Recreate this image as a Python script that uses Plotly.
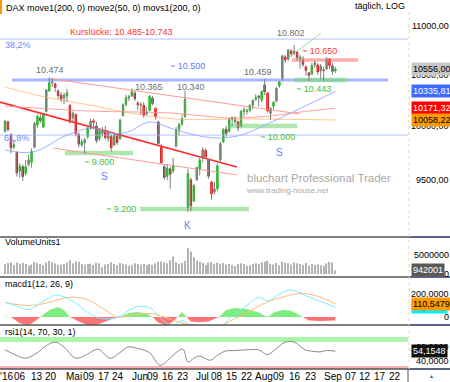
import math
import plotly.graph_objects as go

W, H = 450, 382
FONT = "Liberation Sans, Arial, sans-serif"

# ---------------- data (trading-day index 0 = 30 Mar) ----------------
opens = [9950, 10040, 9920, 9800, 9750, 9580, 9620, 9560, 9640, 9660, 9800, 10010, 10080, 9990, 10140, 10340, 10420, 10410, 10340, 10300, 10270, 10290, 10200,
         10080, 10110, 9920, 9820, 9840, 9900, 9990, 10050, 10000, 9880, 9930, 9960, 9880, 9900, 9820, 9910, 9880, 10100, 10210, 10270, 10290, 10320,
         10220, 10200, 10200, 10130, 10150, 10270, 10170, 10040, 9800, 9620, 9530, 9600, 9580, 9810, 9970, 10020, 10090, 9250, 9500, 9310, 9500, 9600,
         9700, 9770, 9680, 9480, 9390, 9420, 9680, 9850, 9970, 9950, 10080, 10040, 10040, 10000, 10140, 10140, 10150, 10200, 10260, 10290, 10250,
         10400, 10320, 10120, 10190, 10240, 10390, 10450, 10680, 10660, 10740, 10720, 10730, 10660, 10650, 10580, 10520, 10510, 10600, 10600, 10540, 10550, 10560, 10660,
         10590, 10540]
highs = [10060, 10050, 9930, 9870, 9760, 9650, 9640, 9680, 9730, 9790, 10040, 10110, 10110, 10130, 10360, 10474, 10470, 10420, 10360, 10330, 10320, 10360, 10210,
         10140, 10120, 9940, 9880, 9890, 10000, 10070, 10070, 10040, 9980, 9990, 10000, 9960, 9920, 9940, 9930, 10070, 10220, 10300, 10300, 10365, 10340,
         10240, 10230, 10230, 10180, 10300, 10290, 10180, 10050, 9830, 9640, 9640, 9620, 9700, 9990, 10030, 10110, 10340, 9600, 9520, 9460, 9620, 9700,
         9800, 9790, 9690, 9490, 9480, 9650, 9850, 9980, 10000, 10080, 10090, 10090, 10050, 10150, 10180, 10170, 10210, 10260, 10310, 10300, 10340,
         10459, 10330, 10180, 10240, 10380, 10440, 10700, 10700, 10760, 10760, 10802, 10740, 10700, 10690, 10600, 10530, 10620, 10640, 10620, 10610, 10580, 10680, 10670,
         10620, 10580]
lows = [9940, 9950, 9740, 9780, 9530, 9520, 9490, 9540, 9620, 9610, 9790, 9980, 10030, 9980, 10130, 10330, 10380, 10330, 10260, 10230, 10210, 10230, 10020,
        10040, 9900, 9800, 9800, 9740, 9880, 9960, 9970, 9840, 9860, 9900, 9870, 9850, 9760, 9810, 9820, 9870, 10090, 10190, 10240, 10280, 10240,
        10150, 10110, 10080, 10100, 10140, 10200, 10060, 9830, 9640, 9500, 9500, 9420, 9560, 9800, 9910, 10000, 10080, 9214, 9220, 9300, 9490, 9540,
        9660, 9690, 9510, 9320, 9370, 9400, 9670, 9840, 9900, 9940, 10000, 10020, 9950, 9990, 10090, 10110, 10130, 10160, 10240, 10190, 10230,
        10300, 10130, 10060, 10160, 10230, 10370, 10440, 10620, 10640, 10680, 10700, 10640, 10560, 10580, 10490, 10443, 10500, 10570, 10500, 10460, 10443, 10550, 10560,
        10500, 10520]
closes = [10046, 9966, 9794, 9822, 9563, 9624, 9530, 9622, 9682, 9761, 10026, 10093, 10051, 10120, 10350, 10421, 10435, 10373, 10294, 10259, 10300, 10321, 10039,
          10123, 9926, 9829, 9851, 9869, 9980, 10045, 10036, 9862, 9952, 9952, 9891, 9943, 9795, 9916, 9842, 10057, 10205, 10272, 10287, 10333, 10263,
          10205, 10208, 10103, 10121, 10288, 10217, 10089, 9834, 9657, 9520, 9607, 9551, 9631, 9962, 10015, 10072, 10258, 9557, 9268, 9448, 9612, 9680,
          9776, 9709, 9532, 9373, 9418, 9629, 9833, 9964, 9930, 10068, 10066, 10063, 9981, 10142, 10157, 10147, 10198, 10247, 10274, 10275, 10337,
          10330, 10144, 10170, 10228, 10367, 10432, 10692, 10650, 10752, 10713, 10740, 10676, 10679, 10603, 10544, 10494, 10593, 10623, 10529, 10588, 10544, 10657, 10593,
          10534, 10556]
volume_m = [2.6, 2.9, 3.1, 2.4, 3.0, 2.7, 2.9, 2.6, 2.2, 2.5, 3.2, 2.9, 2.6, 2.3, 3.0, 3.4, 3.1, 2.8, 2.4, 2.5, 2.7, 3.0, 3.6,
            2.8, 3.3, 3.2, 2.7, 2.5, 2.6, 2.7, 2.4, 3.0, 2.8, 1.8, 2.5, 2.6, 3.1, 2.6, 2.3, 2.9, 2.7, 2.5, 2.2, 2.4, 2.8,
            2.6, 2.5, 2.7, 2.3, 2.6, 2.4, 2.8, 3.2, 3.3, 3.0, 2.8, 3.6, 4.6, 3.1, 2.7, 2.9, 3.4, 6.8, 5.9, 4.4, 3.5, 3.2,
            2.9, 2.4, 3.0, 3.1, 2.6, 3.0, 2.7, 2.9, 2.5, 2.6, 2.4, 2.1, 2.6, 2.8, 2.6, 2.2, 2.3, 2.6, 2.8, 2.7, 3.1,
            3.3, 3.5, 2.7, 2.5, 2.9, 2.3, 3.3, 2.9, 2.8, 2.5, 3.0, 2.8, 2.6, 2.4, 2.9, 2.2, 2.6, 2.4, 2.5, 2.3, 2.1, 2.8, 3.2,
            3.0, 0.942001]
day_index = list(range(len(closes)))

# moving averages (read at knots)
ma50_idx = [0, 9.5, 21, 30, 35.6, 41.4, 49, 57, 66, 73, 80, 86, 99, 112]
ma50_val = [9774, 9755, 9914, 9981, 9933, 9940, 10038, 9972, 9905, 9886, 9914, 9981, 10154, 10336]
ma200_idx = [0, 28.8, 56, 76.3, 89.8, 100, 112]
ma200_val = [10192, 10144, 10125, 10077, 10096, 10134, 10171]
movs_idx = [0, 13.6, 28.8, 42.4, 57.6, 84.7, 112]
movs_val = [10379, 10280, 10202, 10125, 10067, 10067, 10058]

# analysis drawings (index, price)
red_trend_thick = ([-1.7, 78.6], [10231, 9617])
red_channel_up = ([16.3, 100], [10458, 10115])
red_channel_low = ([16.3, 78.6], [9792, 9544])
green_trend = ([97.3, 107.1], [10700, 10927])
fib382 = 10864
fib618 = 9914
blue_level = ([2.4, 129.8], 10448)
green_zones = [([20.3, 43.4], 9746), ([45.8, 82.7], 9240), ([75.6, 99], 10000), ([98, 116], 10448)]
red_zone = ([97.3, 119.7], 10650)

# MACD (read at knots)
macd_idx = [0, 4, 8, 12, 17, 20, 24, 28, 32, 38, 44, 49, 54, 57, 60, 63, 66, 70, 74, 77, 81, 86, 89, 93, 97, 103, 112]
macd_val = [130, 95, 65, 120, 190, 175, 120, 40, -10, -5, 85, 80, -40, -75, -30, -80, -100, -110, -70, 10, 80, 170, 140, 200, 235, 175, 85]
sig_idx = [0, 8, 13, 18, 23, 28, 34, 38, 44, 50, 56, 61, 66, 72, 76, 82, 88, 95, 101, 106, 112]
sig_val = [125, 100, 115, 150, 172, 150, 60, 0, 20, 30, -20, -60, -80, -90, -40, 40, 120, 180, 205, 180, 115]
hist_idx = [0, 2, 5, 8, 10, 12, 15, 18, 20, 22, 25, 28, 31, 34, 37, 39, 42, 45, 48, 50, 52, 55, 57, 58.5, 60, 61.5, 63, 66, 69, 71,
            72.5, 75, 78, 82, 86, 88.5, 89.5, 91, 94, 97, 99, 101, 103, 107, 112]
hist_val = [5, 0, -55, -70, -40, 0, 60, 87, 60, 0, -40, -70, -70, -40, -10, 0, 35, 43, 30, 0, -50, -70, -40, 0, 43, 0, -40, -45, -40, -15,
            0, 60, 78, 70, 40, 5, 5, 40, 60, 55, 25, 0, -30, -35, -30]

# RSI (read at knots)
rsi_idx = [0, 3, 7, 11, 14, 17, 20, 24, 28, 31.5, 35.6, 39, 41.7, 45.8, 49, 52.5, 56, 58, 60.3, 62, 64, 66, 69.5, 72, 74.6, 78, 82, 86, 89, 92, 95, 98, 101.7, 104, 106.8, 109, 112]
rsi_val = [55.7, 50, 44, 52, 62, 67, 60, 44, 50, 57, 44, 52, 60, 57, 52, 34, 44, 52, 57, 38.6, 44, 47, 41, 48, 54, 55, 56, 56, 49, 58, 67, 67, 56, 54, 53, 55, 54]

tick_pos = [0.34, 5.08, 10.85, 15.6, 23.4, 28.5, 33.6, 38.3, 45.8, 50.2, 55.3, 60.3, 66.8, 71.9, 76.9, 82.0, 87.8, 92.9, 98.3, 103.7, 111.2, 117.3, 122.0, 127.1, 132.2]
tick_text = ["'16", "06", "13", "20", "Mai", "09", "17", "24", "Jun", "09", "16", "23", "Jul", "08", "15", "22", "Aug", "09", "16", "23", "Sep", "07", "12", "17", "22"]

last_close_label = "10556,00"
ma50_label, ma200_label, movs_label = "10335,81", "10171,32", "10058,22"
vol_label, sig_label, macd_label, rsi_label = "942001", "110,5479", "82,6602", "54,1548"

# ---------------- figure ----------------
def py(p):
    return 1 - p / H

XD = 408 / W
fig = go.Figure()

# volume
fig.add_trace(go.Bar(x=day_index, y=[v * 1e6 for v in volume_m], width=0.4,
                     marker=dict(color='#b4b4b4', line=dict(width=0)), yaxis='y2'))

def hline(xs, p, color, width):
    fig.add_trace(go.Scatter(x=xs, y=[p, p], mode='lines', line=dict(color=color, width=width), yaxis='y'))

xr = [-1.7, 136.6]
hline(xr, fib382, '#b4c2ff', 1)
hline(xr, fib618, '#b4c2ff', 1)
hline(blue_level[0], blue_level[1], '#a6b6ff', 3)
for xs, p in green_zones:
    hline(xs, p, 'rgba(120,215,120,0.6)', 4.5)
hline(red_zone[0], red_zone[1], 'rgba(255,120,120,0.6)', 3.5)

for (xs, ys), col, wd in [(red_channel_up, '#ff9a9a', 1), (red_channel_low, '#ff9a9a', 1),
                          (red_trend_thick, '#ff2a2a', 1.6), (green_trend, '#9be29b', 1)]:
    fig.add_trace(go.Scatter(x=xs, y=ys, mode='lines', line=dict(color=col, width=wd), yaxis='y'))

for xs, ys, col in [(movs_idx, movs_val, '#ffc98a'), (ma200_idx, ma200_val, '#ff9f9f'), (ma50_idx, ma50_val, '#9fb0ff')]:
    fig.add_trace(go.Scatter(x=xs, y=ys, mode='lines', line=dict(color=col, width=1, shape='spline'), yaxis='y'))

# wicks
wx, wy = [], []
for i, (h, l) in enumerate(zip(highs, lows)):
    wx += [i, i, None]
    wy += [l, h, None]
fig.add_trace(go.Scatter(x=wx, y=wy, mode='lines', line=dict(color='#808080', width=1), yaxis='y'))
# bodies
fig.add_trace(go.Candlestick(x=day_index, open=opens, close=closes,
                             high=[max(o, c) for o, c in zip(opens, closes)],
                             low=[min(o, c) for o, c in zip(opens, closes)],
                             increasing=dict(line=dict(color='#22bb22', width=1), fillcolor='#2fd12f'),
                             decreasing=dict(line=dict(color='#e00000', width=1), fillcolor='#ff1a1a'),
                             whiskerwidth=0, yaxis='y'))

# MACD
fig.add_trace(go.Scatter(x=hist_idx, y=[max(v, 0) for v in hist_val], mode='lines', line=dict(width=0),
                         fill='tozeroy', fillcolor='#7ded7d', yaxis='y3'))
fig.add_trace(go.Scatter(x=hist_idx, y=[min(v, 0) for v in hist_val], mode='lines', line=dict(width=0),
                         fill='tozeroy', fillcolor='#ff7474', yaxis='y3'))
fig.add_trace(go.Scatter(x=sig_idx, y=sig_val, mode='lines', line=dict(color='#ffbb77', width=1, shape='spline'), yaxis='y3'))
fig.add_trace(go.Scatter(x=macd_idx, y=macd_val, mode='lines', line=dict(color='#77eeff', width=1, shape='spline'), yaxis='y3'))

# RSI
fig.add_trace(go.Scatter(x=rsi_idx, y=rsi_val, mode='lines', line=dict(color='#8a8a8a', width=1, shape='spline'), yaxis='y4'))

ax_common = dict(showgrid=False, zeroline=False, showticklabels=False, ticks='', showline=False, anchor='x', automargin=False)
fig.update_layout(
    width=W, height=H, margin=dict(l=0, r=0, t=0, b=0, autoexpand=False),
    paper_bgcolor='white', plot_bgcolor='white', showlegend=False, hovermode=False,
    xaxis=dict(domain=[0, XD], range=[-1.7, 136.6], anchor='y4', showgrid=False, zeroline=False,
               showticklabels=False, ticks='', showline=False, automargin=False,
               rangeslider=dict(visible=False)),
    yaxis=dict(domain=[py(237), py(14)], type='log', range=[math.log10(8996), math.log10(11127)], **ax_common),
    yaxis2=dict(domain=[py(277), py(237)], range=[-0.79e6, 9.74e6], **ax_common),
    yaxis3=dict(domain=[py(325), py(277)], range=[-69.6, 347.8], **ax_common),
    yaxis4=dict(domain=[py(369), py(325)], range=[28.57, 91.43], **ax_common),
)

shapes = []
shapes.append(dict(type='rect', xref='paper', x0=0, x1=XD, yref='y4', y0=67.1, y1=74.3, fillcolor='#aaf5aa', line=dict(width=0), layer='below'))
shapes.append(dict(type='rect', xref='paper', x0=0, x1=XD, yref='y4', y0=28.6, y1=32.9, fillcolor='#ffb0b0', line=dict(width=0), layer='below'))
for yy in [237, 277, 325, 369]:
    shapes.append(dict(type='line', xref='paper', yref='paper', x0=0, x1=XD, y0=py(yy), y1=py(yy), line=dict(color='#555555', width=1.5)))
    shapes.append(dict(type='line', xref='paper', yref='paper', x0=XD, x1=1, y0=py(yy), y1=py(yy), line=dict(color='#22305e', width=1.5)))
shapes.append(dict(type='line', xref='paper', yref='paper', x0=409 / W, x1=409 / W, y0=py(369), y1=py(10), line=dict(color='#ecd9a0', width=1, dash='dot')))
shapes.append(dict(type='line', xref='paper', yref='paper', x0=408 / W, x1=408 / W, y0=0, y1=py(369), line=dict(color='#555555', width=1)))
shapes.append(dict(type='rect', xref='paper', yref='paper', x0=0, x1=2 / W, y0=py(14), y1=1, fillcolor='#ff9900', line=dict(width=0)))
fig.update_layout(shapes=shapes)

ann = []
def txt(s, x, y, color='black', size=9, anchor='left'):
    ann.append(dict(text=s, x=x / W, y=py(y), xref='paper', yref='paper', xanchor=anchor, yanchor='middle',
                    showarrow=False, font=dict(size=size, color=color, family=FONT)))

# date labels along the time axis
for tp, tt in zip(tick_pos, tick_text):
    ann.append(dict(text=tt, x=tp, y=py(376.5), xref='x', yref='paper', xanchor='center', yanchor='middle',
                    showarrow=False, font=dict(size=10, color='black', family=FONT)))

txt("DAX move1(200, 0) move2(50, 0) movs1(200, 0)", 4, 8, size=9)
txt("täglich, LOG", 407, 6, size=9, anchor='right')
txt("Kurslücke: 10.485-10.743", 121, 32, color='#ff3030', anchor='center')
txt("38,2%", 3, 45, color='#6f86ff')
txt("61,8%", 2, 138, color='#6f86ff')
for s, x, y in [("10.474", 50, 70), ("10.365", 149, 87), ("10.340", 191, 87), ("10.459", 258, 72), ("10.802", 291, 33)]:
    txt(s, x, y, color='#6e6e6e', anchor='center')
txt("~ 10.650", 300, 51, color='#ff3a3a')
txt("~ 10.500", 187, 66, color='#5f7dff', anchor='center')
txt("~ 10.443", 294, 89, color='#3cbf3c')
txt("~ 10.000", 258, 137, color='#3cbf3c')
txt("~ 9.800", 82, 162, color='#3cbf3c')
txt("~ 9.200", 104, 209, color='#3cbf3c')
txt("S", 279, 152, color='#5f7dff', anchor='center', size=10)
txt("S", 104, 176, color='#5f7dff', anchor='center', size=10)
txt("K", 187, 225, color='#5f7dff', anchor='center', size=10)
txt("bluchart Professional Trader", 245, 178, color='#a8a8a8', size=11.5)
txt("www.trading-house.net", 244, 190, color='#a8a8a8', size=8)
txt("VolumeUnits1", 3, 242)
txt("macd1(12, 26, 9)", 3, 284)
txt("rsi1(14, 70, 30, 1)", 3, 332)
txt("▲", 431, 376, color='#3050a0', size=5, anchor='center')

def rlab(s, yref, yv):
    ann.append(dict(text=s, x=451 / W, y=yv, xref='paper', yref=yref, xanchor='right', yanchor='middle',
                    showarrow=False, font=dict(size=9, color='black', family=FONT)))

for p, s in [(11000, "11000,00"), (10500, "10500,00"), (10000, "10000,00"), (9500, "9500,00")]:
    rlab(s, 'y', math.log10(p))
rlab("5000000", 'y2', 5e6)
rlab("0", 'y2', 0)
rlab("200,0000", 'y3', 200)
rlab("0", 'y3', 0)
rlab("60,0000", 'y4', 60)
rlab("40,0000", 'y4', 40)

def box(s, yref, yv, bg, fg):
    ann.append(dict(text=s, x=411 / W, y=yv, xref='paper', yref=yref, xanchor='left', yanchor='middle',
                    showarrow=False, bgcolor=bg, borderpad=1, font=dict(size=9, color=fg, family=FONT)))

box(last_close_label, 'y', math.log10(closes[-1]), '#c8c8c8', 'black')
box(ma50_label, 'y', math.log10(ma50_val[-1]), '#3d6bff', 'white')
box(ma200_label, 'y', math.log10(ma200_val[-1]), '#ff0000', 'white')
box(movs_label, 'y', math.log10(movs_val[-1]), '#ff9900', 'black')
box(vol_label, 'y2', volume_m[-1] * 1e6, '#5a5a5a', 'white')
box(macd_label, 'y3', 82.66, '#00f0ff', 'black')
box(sig_label, 'y3', 110.55, '#ff9900', 'black')
box(rsi_label, 'y4', 54.15, '#111111', 'white')

fig.update_layout(annotations=ann)
fig.write_html("out.html")
